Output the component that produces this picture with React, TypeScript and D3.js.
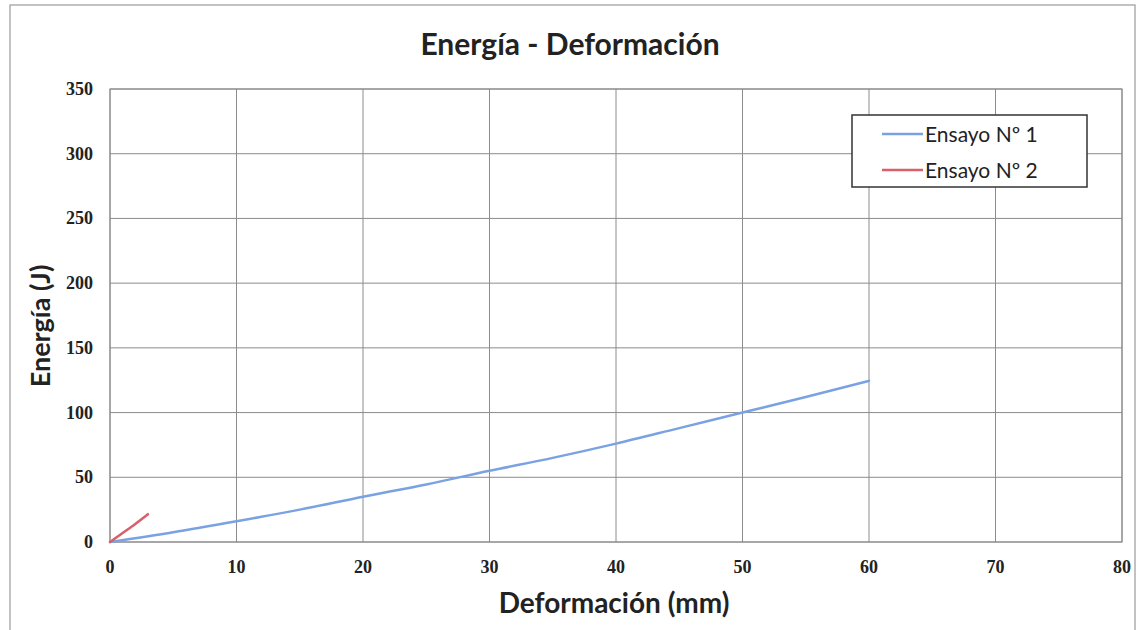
import React from "react";
import * as d3 from "d3";

// Ensayo Nº 1: deformación (mm) vs energía (J)
const ensayo1Def = [0, 5, 10, 15, 20, 25, 30, 35, 40, 45, 50, 55, 60];
const ensayo1Ene = [0, 7.5, 16, 25, 35, 44.5, 55, 65, 76, 88, 100, 112, 124.5];
// Ensayo Nº 2
const ensayo2Def = [0, 1, 2, 3];
const ensayo2Ene = [0, 7, 14, 21.5];

const xTicks = [0, 10, 20, 30, 40, 50, 60, 70, 80];
const yTicks = [0, 50, 100, 150, 200, 250, 300, 350];
const seriesNames = ["Ensayo Nº 1", "Ensayo Nº 2"];
const seriesColors = ["#7aa2e3", "#d95f6a"];

const W = 1140;
const H = 630;
const plot = { left: 110, right: 1122, top: 89, bottom: 542 };

const App: React.FC = () => {
  const x = d3.scaleLinear().domain([0, 80]).range([plot.left, plot.right]);
  const y = d3.scaleLinear().domain([0, 350]).range([plot.bottom, plot.top]);

  const line = d3
    .line<[number, number]>()
    .x((d) => x(d[0]))
    .y((d) => y(d[1]))
    .curve(d3.curveMonotoneX);

  const series = [
    ensayo1Def.map((d, i) => [d, ensayo1Ene[i]] as [number, number]),
    ensayo2Def.map((d, i) => [d, ensayo2Ene[i]] as [number, number]),
  ];

  const serif = "'Liberation Serif', 'DejaVu Serif', serif";
  const sans = "Lato, 'Open Sans', sans-serif";

  return (
    <svg
      width={W}
      height={H}
      style={{ position: "absolute", left: 0, top: 0, background: "#fff" }}
    >
      {/* chart border */}
      <rect x={10} y={5} width={1125} height={640} fill="none" stroke="#9a9a9a" strokeWidth={1.2} />

      {/* title */}
      <text x={570} y={55} textAnchor="middle" fontFamily={sans} fontWeight="bold" fontSize={30} fill="#222">
        Energía - Deformación
      </text>

      {/* grid */}
      {yTicks.map((t) => (
        <line key={"gy" + t} x1={plot.left} x2={plot.right} y1={y(t)} y2={y(t)} stroke="#8c8c8c" strokeWidth={1} />
      ))}
      {xTicks.map((t) => (
        <line key={"gx" + t} x1={x(t)} x2={x(t)} y1={plot.top} y2={plot.bottom} stroke="#8c8c8c" strokeWidth={1} />
      ))}
      <rect
        x={plot.left}
        y={plot.top}
        width={plot.right - plot.left}
        height={plot.bottom - plot.top}
        fill="none"
        stroke="#888"
        strokeWidth={1}
      />

      {/* tick labels */}
      {yTicks.map((t) => (
        <text key={"ty" + t} x={93} y={y(t) + 6} textAnchor="end" fontFamily={serif} fontWeight="bold" fontSize={18} fill="#222">
          {t}
        </text>
      ))}
      {xTicks.map((t) => (
        <text key={"tx" + t} x={x(t)} y={573} textAnchor="middle" fontFamily={serif} fontWeight="bold" fontSize={18} fill="#222">
          {t}
        </text>
      ))}

      {/* axis titles */}
      <text x={614} y={613} textAnchor="middle" fontFamily={sans} fontWeight="bold" fontSize={28} fill="#222">
        Deformación (mm)
      </text>
      <text
        transform={`translate(50, 326) rotate(-90)`}
        textAnchor="middle"
        fontFamily={sans}
        fontWeight="bold"
        fontSize={27}
        fill="#222"
      >
        Energía (J)
      </text>

      {/* series */}
      {series.map((s, i) => (
        <path key={"s" + i} d={line(s) || ""} fill="none" stroke={seriesColors[i]} strokeWidth={2.5} strokeLinecap="round" />
      ))}

      {/* legend */}
      <rect x={852} y={115} width={235} height={72} fill="#fff" stroke="#333" strokeWidth={1.5} />
      {seriesNames.map((n, i) => (
        <g key={"lg" + i} transform={`translate(0, ${134 + i * 36})`}>
          <line x1={882} x2={923} y1={0} y2={0} stroke={seriesColors[i]} strokeWidth={2.5} />
          <text x={925} y={8} fontFamily={sans} fontSize={21} fill="#222">
            {n}
          </text>
        </g>
      ))}
    </svg>
  );
};

export default App;
